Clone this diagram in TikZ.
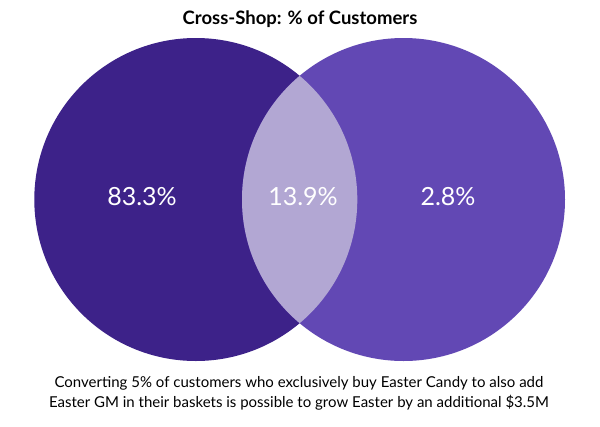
\documentclass[tikz,border=0pt]{standalone}
\usepackage{fontspec}
\setmainfont{Lato}
\definecolor{leftc}{HTML}{3D2289}
\definecolor{rightc}{HTML}{6248B4}
\definecolor{lensc}{HTML}{B2A7D3}
\begin{document}
\begin{tikzpicture}[x=1pt,y=-1pt,
  setc/.style={circle, inner sep=0pt, minimum size=323pt},
  pct/.style={text=white, font=\fontsize{25}{29}\selectfont, inner sep=0pt},
  titlestyle/.style={font=\bfseries\fontsize{18.5}{22}\selectfont, inner sep=0pt},
  notestyle/.style={font=\fontsize{15}{20}\selectfont, align=center, inner sep=0pt}]
\useasboundingbox (0,0) rectangle (600,426);
\fill[white] (0,0) rectangle (600,426);
\node[setc, fill=leftc] (L) at (195.8,199.5) {};
\node[setc, fill=rightc] (R) at (403.5,199.5) {};
\begin{scope}
  \clip (L.center) circle (161.5pt);
  \fill[lensc] (R.center) circle (161.5pt);
\end{scope}
\node[pct] (a) at (142,197) {83.3\%};
\node[pct] (b) at (303,197) {13.9\%};
\node[pct] (c) at (448,197) {2.8\%};
\node[titlestyle] (t) at (300,19) {Cross-Shop: \% of Customers};
\node[notestyle] (n) at (299,393) {Converting 5\% of customers who exclusively buy Easter Candy to also add\\Easter GM in their baskets is possible to grow Easter by an additional \$3.5M};
\end{tikzpicture}
\end{document}
